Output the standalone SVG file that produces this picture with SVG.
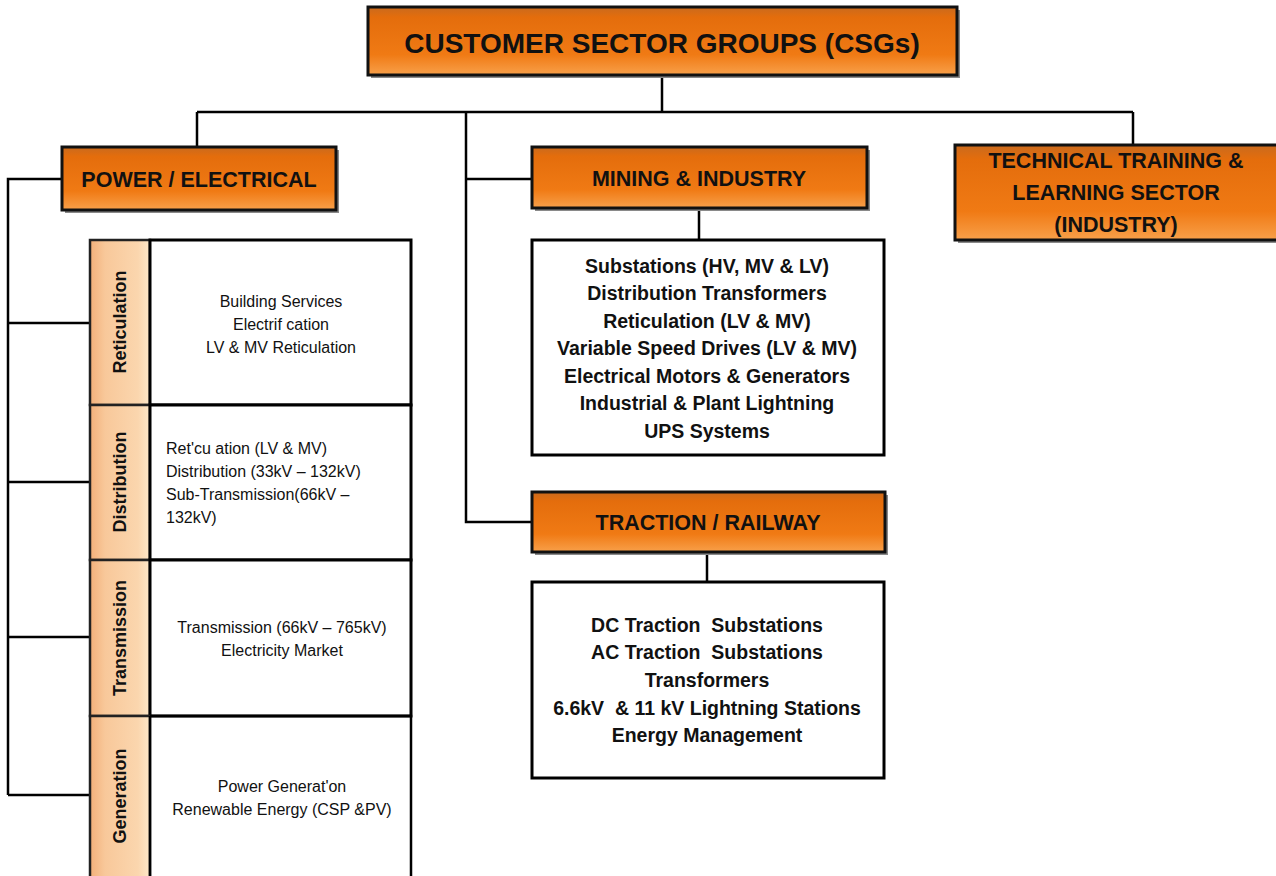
<svg xmlns="http://www.w3.org/2000/svg" width="1276" height="876" viewBox="0 0 1276 876">
<defs>
<linearGradient id="og" x1="0" y1="0" x2="0" y2="1">
<stop offset="0" stop-color="#c96a1e"/>
<stop offset="0.15" stop-color="#e46d0c"/>
<stop offset="0.7" stop-color="#f07a14"/>
<stop offset="1" stop-color="#f8a04a"/>
</linearGradient>
<linearGradient id="pg" x1="0" y1="0" x2="1" y2="0">
<stop offset="0" stop-color="#f2b07a"/>
<stop offset="0.25" stop-color="#f8c89a"/>
<stop offset="0.8" stop-color="#fbd6ae"/>
<stop offset="1" stop-color="#fde8c8"/>
</linearGradient>
<style>
.ob{fill:url(#og);stroke:#111;stroke-width:3}
.sh{fill:#8a8a8a}
.pb{fill:url(#pg);stroke:#222;stroke-width:2.5}
.cb{fill:#fff;stroke:#000;stroke-width:3}
.ln{fill:none;stroke:#000;stroke-width:2.5}
.ht{font-family:"Liberation Sans",Arial,sans-serif;font-weight:bold;fill:#111;text-anchor:middle}
.vt{font-family:"Liberation Sans",Arial,sans-serif;font-weight:bold;fill:#111;text-anchor:middle;font-size:18px}
.st{font-family:"Liberation Sans",Arial,sans-serif;fill:#111;font-size:16px}
.mt{font-family:"Liberation Sans",Arial,sans-serif;font-weight:bold;fill:#111;font-size:19.5px;text-anchor:middle;white-space:pre}
</style>
</defs>

<g id="connectors">
<path class="ln" d="M662 75V112M197 112H1133M197 112V147M1133 112V145M466 112V522H532M466 179H532"/>
<path class="ln" d="M62 179H8V795M8 323H90M8 482H90M8 637H90M8 795H90"/>
<path class="ln" d="M699 208V240M707 552V582"/>
</g>

<g id="csg">
<rect class="sh" x="371" y="10" width="589" height="68"/>
<rect class="ob" x="368" y="7" width="589" height="68"/>
<text class="ht" x="662" y="53" font-size="28">CUSTOMER SECTOR GROUPS (CSGs)</text>
</g>

<g id="power">
<rect class="sh" x="65" y="150" width="274" height="63"/>
<rect class="ob" x="62" y="147" width="274" height="63"/>
<text class="ht" x="199" y="187" font-size="21.5">POWER / ELECTRICAL</text>
</g>

<g id="mining">
<rect class="sh" x="535" y="150" width="335" height="61"/>
<rect class="ob" x="532" y="147" width="335" height="61"/>
<text class="ht" x="699" y="186" font-size="21.5">MINING &amp; INDUSTRY</text>
</g>

<g id="technical">
<rect class="sh" x="958" y="148" width="320" height="95"/>
<rect class="ob" x="955" y="145" width="323" height="95"/>
<text class="ht" font-size="21.5"><tspan x="1116" y="168">TECHNICAL TRAINING &amp;</tspan><tspan x="1116" y="200">LEARNING SECTOR</tspan><tspan x="1116" y="232">(INDUSTRY)</tspan></text>
</g>

<g id="traction">
<rect class="sh" x="535" y="495" width="353" height="60"/>
<rect class="ob" x="532" y="492" width="353" height="60"/>
<text class="ht" x="708" y="530" font-size="21.5">TRACTION / RAILWAY</text>
</g>

<g id="mining-list">
<rect class="cb" x="532" y="240" width="352" height="215"/>
<text class="mt"><tspan x="707" y="273">Substations (HV, MV &amp; LV)</tspan><tspan x="707" y="300">Distribution Transformers</tspan><tspan x="707" y="328">Reticulation (LV &amp; MV)</tspan><tspan x="707" y="355">Variable Speed Drives (LV &amp; MV)</tspan><tspan x="707" y="383">Electrical Motors &amp; Generators</tspan><tspan x="707" y="410">Industrial &amp; Plant Lightning</tspan><tspan x="707" y="438">UPS Systems</tspan></text>
</g>

<g id="traction-list">
<rect class="cb" x="532" y="582" width="352" height="196"/>
<text class="mt"><tspan x="707" y="632">DC Traction  Substations</tspan><tspan x="707" y="659">AC Traction  Substations</tspan><tspan x="707" y="687">Transformers</tspan><tspan x="707" y="715">6.6kV  &amp; 11 kV Lightning Stations</tspan><tspan x="707" y="742">Energy Management</tspan></text>
</g>

<g id="reticulation">
<rect class="pb" x="90" y="240" width="60" height="165"/>
<text class="vt" transform="translate(126 322) rotate(-90)">Reticulation</text>
<rect class="cb" x="150" y="240" width="261" height="165"/>
<text class="st" text-anchor="middle"><tspan x="281" y="307">Building Services</tspan><tspan x="281" y="330">Electrif cation</tspan><tspan x="281" y="353">LV &amp; MV Reticulation</tspan></text>
</g>

<g id="distribution">
<rect class="pb" x="90" y="405" width="60" height="155"/>
<text class="vt" transform="translate(126 482) rotate(-90)">Distribution</text>
<rect class="cb" x="150" y="405" width="261" height="155"/>
<text class="st"><tspan x="166" y="454">Ret'cu ation (LV &amp; MV)</tspan><tspan x="166" y="477">Distribution (33kV – 132kV)</tspan><tspan x="166" y="500">Sub-Transmission(66kV –</tspan><tspan x="166" y="523">132kV)</tspan></text>
</g>

<g id="transmission">
<rect class="pb" x="90" y="560" width="60" height="156"/>
<text class="vt" transform="translate(126 638) rotate(-90)">Transmission</text>
<rect class="cb" x="150" y="560" width="261" height="156"/>
<text class="st" text-anchor="middle"><tspan x="282" y="633">Transmission (66kV – 765kV)</tspan><tspan x="282" y="656">Electricity Market</tspan></text>
</g>

<g id="generation">
<rect class="pb" x="90" y="716" width="60" height="170"/>
<text class="vt" transform="translate(126 796) rotate(-90)">Generation</text>
<path class="ln" d="M150 716V876M150 716H411V876" stroke-width="3"/>
<text class="st" text-anchor="middle"><tspan x="282" y="792">Power Generat'on</tspan><tspan x="282" y="815">Renewable Energy (CSP &amp;PV)</tspan></text>
</g>
</svg>
